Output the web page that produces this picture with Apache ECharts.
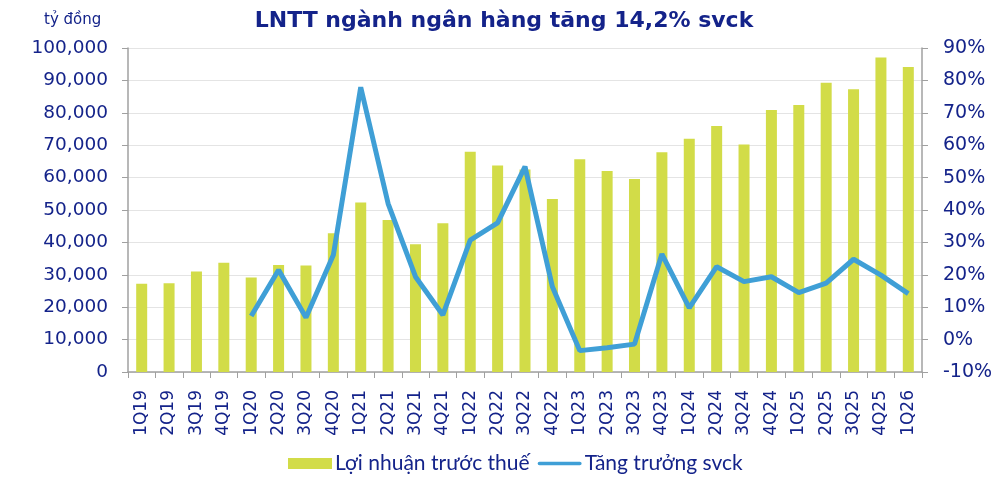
<!DOCTYPE html>
<html><head><meta charset="utf-8">
<script src="https://cdn.jsdelivr.net/npm/echarts@6/dist/echarts.min.js"></script>
<style>html,body{margin:0;padding:0;background:#fff}#c{width:1000px;height:481px}</style>
</head><body><div id="c"></div>
<script>
const categories = ['1Q19','2Q19','3Q19','4Q19','1Q20','2Q20','3Q20','4Q20','1Q21','2Q21','3Q21','4Q21','1Q22','2Q22','3Q22','4Q22','1Q23','2Q23','3Q23','4Q23','1Q24','2Q24','3Q24','4Q24','1Q25','2Q25','3Q25','4Q25','1Q26'];
const profit = [27200,27400,31000,33700,29200,33000,32900,42800,52300,46900,39400,45900,68000,63700,62500,53400,65700,62000,59600,67800,72000,75900,70200,80900,82400,89300,87300,97100,94100];
const growth = [null,null,null,null,7.3,21.5,6.8,26.1,77.9,42.0,19.4,7.6,30.7,36.0,53.4,16.3,-3.4,-2.5,-1.4,26.4,9.8,22.5,17.9,19.4,14.5,17.4,24.8,19.9,14.2];
const leftTicks = {min:0,max:100000,interval:10000};
const rightTicks = {min:-10,max:90,interval:10};
const navy = '#14238a';
const wide = '"DejaVu Sans", sans-serif';
const chart = echarts.init(document.getElementById('c'));
chart.setOption({
  animation:false,
  textStyle:{fontFamily:wide},
  title:[
    {text:'LNTT ngành ngân hàng tăng 14,2% svck',left:499,top:5,textAlign:'center',textStyle:{color:navy,fontSize:22,fontWeight:'bold',fontFamily:wide}},
    {text:'tỷ đồng',left:39,top:8,textStyle:{color:navy,fontSize:15,fontWeight:'normal',fontFamily:wide}}
  ],
  grid:{left:128,right:78,top:48,bottom:109,containLabel:false,outerBoundsMode:'none'},
  legend:{bottom:2,left:283,itemGap:8,itemWidth:44,itemHeight:11,textStyle:{color:navy,fontSize:21,fontFamily:'Lato, sans-serif',padding:[0,0,0,-2]},
    data:[{name:'Lợi nhuận trước thuế',icon:'rect'},{name:'Tăng trưởng svck',icon:'path://M2,0 L46,0 A2,2 0 0 1 46,4 L2,4 A2,2 0 0 1 2,0 Z'}]},
  xAxis:{type:'category',data:categories,
    axisLine:{lineStyle:{color:'#a0a0a0',width:1.5}},
    axisTick:{show:true,length:6,lineStyle:{color:'#a0a0a0'}},
    axisLabel:{rotate:90,interval:0,color:navy,fontSize:17,margin:18}},
  yAxis:[
    {type:'value',min:leftTicks.min,max:leftTicks.max,interval:leftTicks.interval,
      axisLine:{show:true,lineStyle:{color:'#a0a0a0',width:1.5}},
      axisTick:{show:true,length:6,lineStyle:{color:'#a0a0a0'}},
      splitLine:{lineStyle:{color:'#e4e4e4'}},
      axisLabel:{color:navy,fontSize:18.5,margin:20,formatter:v=>v.toLocaleString('en-US')}},
    {type:'value',min:rightTicks.min,max:rightTicks.max,interval:rightTicks.interval,position:'right',
      axisLine:{show:true,lineStyle:{color:'#a0a0a0',width:1.5}},
      axisTick:{show:true,length:6,lineStyle:{color:'#a0a0a0'}},
      splitLine:{show:false},
      axisLabel:{color:navy,fontSize:19,margin:21,align:'left',formatter:v=>v+'%'}}
  ],
  series:[
    {name:'Lợi nhuận trước thuế',type:'bar',data:profit,barWidth:11,itemStyle:{color:'#d2dc48'}},
    {name:'Tăng trưởng svck',type:'line',yAxisIndex:1,data:growth,symbol:'none',connectNulls:false,
      lineStyle:{color:'#3f9fd6',width:5},itemStyle:{color:'#3f9fd6'}}
  ]
});
</script></body></html>
